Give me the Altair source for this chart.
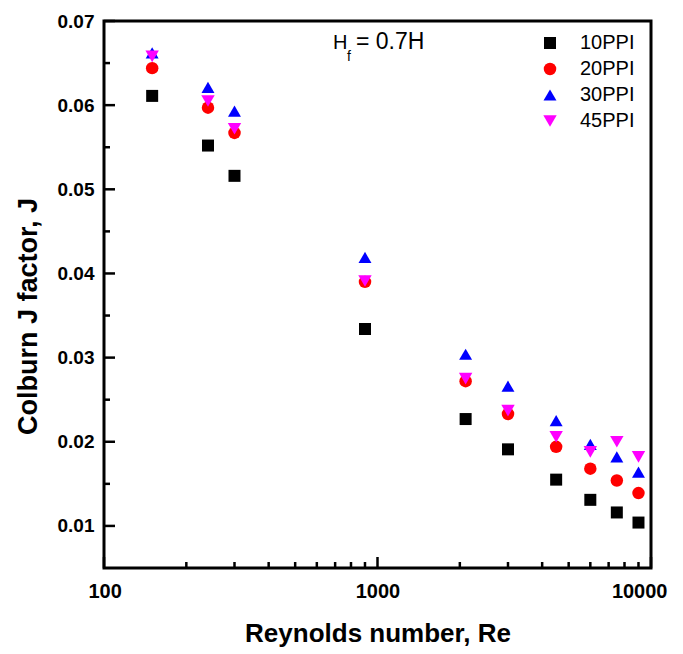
import altair as alt
import pandas as pd

# ---- data ----
reynolds = [150, 240, 300, 900, 2100, 3000, 4500, 6000, 7500, 9000]
series = ["10PPI", "20PPI", "30PPI", "45PPI"]
j_10ppi = [0.0611, 0.0552, 0.0516, 0.0334, 0.0227, 0.0191, 0.0155, 0.0131, 0.0116, 0.0104]
j_20ppi = [0.0644, 0.0597, 0.0567, 0.0390, 0.0272, 0.0233, 0.0194, 0.0168, 0.0154, 0.0139]
j_30ppi = [0.0662, 0.0621, 0.0593, 0.0419, 0.0304, 0.0266, 0.0225, 0.0197, 0.0182, 0.0164]
j_45ppi = [0.0658, 0.0605, 0.0572, 0.0391, 0.0275, 0.0237, 0.0206, 0.0188, 0.0200, 0.0182]

x_major = [100, 1000, 10000]
x_minor = [200, 300, 400, 500, 600, 700, 800, 900,
           2000, 3000, 4000, 5000, 6000, 7000, 8000, 9000]
y_major = [0.01, 0.02, 0.03, 0.04, 0.05, 0.06, 0.07]
y_minor = [0.015, 0.025, 0.035, 0.045, 0.055, 0.065]

shapes = ["square", "circle", "triangle-up", "triangle-down"]
colors = ["#000000", "#FF0000", "#0000FF", "#FF00FF"]
sizes = [144, 180, 290, 290]

rows = []
for name, vals in zip(series, [j_10ppi, j_20ppi, j_30ppi, j_45ppi]):
    for r, v in zip(reynolds, vals):
        rows.append({"Re": r, "J": v, "series": name})
df = pd.DataFrame(rows)

W = 547
H = 547
FONT = "Liberation Sans"

xscale = alt.Scale(type="log", domain=[100, 10000])
yscale = alt.Scale(domain=[0.005, 0.07])

xaxis = alt.Axis(values=x_major, format="d", ticks=False, domain=False, grid=False,
                 labelFont=FONT, labelFontSize=20, labelFontWeight="bold",
                 labelColor="black", labelPadding=13,
                 labelFlush=True, labelFlushOffset=16,
                 title="Reynolds number, Re", titleFont=FONT, titleFontSize=26,
                 titleFontWeight="bold", titleColor="black",
                 titleY=73, titleBaseline="alphabetic")
yaxis = alt.Axis(values=y_major, format=".2f", ticks=False, domain=False, grid=False,
                 labelFont=FONT, labelFontSize=19, labelFontWeight="bold",
                 labelColor="black", labelPadding=10, labelFlush=False,
                 title="Colburn J factor, J", titleFont=FONT, titleFontSize=27,
                 titleFontWeight="bold", titleColor="black",
                 titleX=-68, titleY=295, titleBaseline="alphabetic")

points = alt.Chart(df).mark_point(filled=True, opacity=1, strokeWidth=0).encode(
    x=alt.X("Re:Q", scale=xscale, axis=xaxis),
    y=alt.Y("J:Q", scale=yscale, axis=yaxis),
    color=alt.Color("series:N", scale=alt.Scale(domain=series, range=colors),
                    legend=alt.Legend(title=None, orient="none", legendX=436, legendY=12,
                                      labelFont=FONT, labelFontSize=20, labelColor="black",
                                      labelOffset=20, rowPadding=6, padding=0,
                                      symbolStrokeWidth=0, symbolOpacity=1)),
    shape=alt.Shape("series:N", scale=alt.Scale(domain=series, range=shapes)),
    size=alt.Size("series:N", scale=alt.Scale(domain=series, range=sizes)),
)

def tick_layer(values, horizontal, length):
    base = alt.Chart(pd.DataFrame({"Re": values, "J": values})).mark_rule(
        color="black", strokeWidth=2.5)
    if horizontal:
        return base.encode(y=alt.Y("J:Q", scale=yscale, axis=yaxis),
                           x=alt.value(0), x2=alt.value(length))
    return base.encode(x=alt.X("Re:Q", scale=xscale, axis=xaxis),
                       y=alt.value(H), y2=alt.value(H - length))

ticks = [
    tick_layer(y_major, True, 11),
    tick_layer(y_minor, True, 6),
    tick_layer(x_major, False, 11),
    tick_layer(x_minor, False, 6),
]

note_df = pd.DataFrame({"t": ["x"]})
note_h = alt.Chart(note_df).mark_text(text="H", font=FONT, fontSize=20, align="left",
                                      baseline="alphabetic", color="black").encode(
    x=alt.value(229), y=alt.value(28))
note_f = alt.Chart(note_df).mark_text(text="f", font=FONT, fontSize=14, align="left",
                                      baseline="alphabetic", color="black").encode(
    x=alt.value(243), y=alt.value(40))
note_rest = alt.Chart(note_df).mark_text(text="= 0.7H", font=FONT, fontSize=23, align="left",
                                         baseline="alphabetic", color="black").encode(
    x=alt.value(252), y=alt.value(28))

chart = alt.layer(points, *ticks, note_h, note_f, note_rest).properties(
    width=W, height=H,
    padding={"left": 96, "top": 13, "right": 24, "bottom": 80},
    autosize=alt.AutoSizeParams(type="none"),
    background="white",
).configure_view(stroke="black", strokeWidth=3)

chart.save("out.html", embed_options={"renderer": "svg", "actions": False})
